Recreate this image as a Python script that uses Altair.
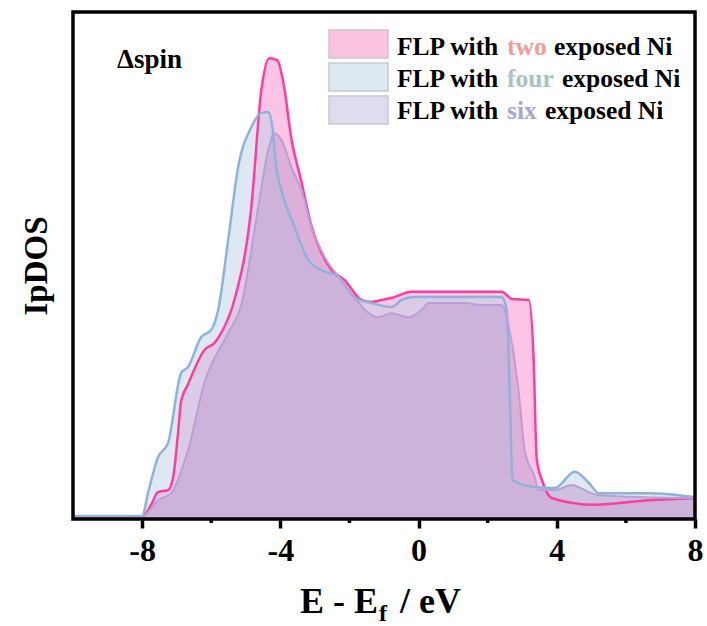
import altair as alt
import pandas as pd

# ---- data ----
two_x = [-10, -8, -7.74, -7.54, -7.25, -7.10, -6.96, -6.87, -6.67, -6.20, -5.91, -5.71, -5.33,
         -4.84, -4.55, -4.32, -4.09, -3.91, -3.68, -3.39, -3.10, -2.81, -2.52, -2.14, -1.65,
         -1.36, -1.07, -0.78, -0.20, 2.41, 2.70, 3.19, 3.33, 3.42, 3.57, 3.86, 5.10, 6.67, 8.0]
two_y = [0.04, 0.04, 0.28, 0.53, 0.57, 0.83, 1.70, 2.33, 2.66, 3.33, 3.47, 3.67, 4.32,
         6.15, 8.46, 9.09, 9.05, 8.60, 7.50, 6.65, 5.78, 5.25, 4.91, 4.71, 4.32,
         4.28, 4.32, 4.36, 4.48, 4.48, 4.34, 4.32, 3.14, 1.18, 0.77, 0.41, 0.28, 0.37, 0.41]

four_x = [-10, -8, -7.83, -7.54, -7.25, -6.87, -6.67, -6.29, -6.00, -5.80, -5.51, -5.22,
          -4.84, -4.55, -4.35, -4.23, -4.12, -3.97, -3.59, -3.19, -2.81, -2.32, -1.86,
          -1.36, -0.78, -0.49, -0.12, 2.41, 2.55, 2.64, 2.72, 3.36, 3.94, 4.52, 4.93, 5.22,
          6.67, 8.0]
four_y = [0.06, 0.06, 0.51, 1.22, 1.50, 2.88, 3.00, 3.59, 3.73, 4.12, 5.50, 6.94,
          7.73, 8.01, 8.03, 7.73, 6.94, 6.49, 5.76, 5.11, 4.91, 4.77, 4.38,
          4.26, 4.18, 4.32, 4.38, 4.38, 4.12, 2.49, 0.77, 0.63, 0.61, 0.93, 0.71, 0.51,
          0.51, 0.43]

six_x = [-10, -8, -7.54, -7.16, -6.67, -6.20, -5.51, -5.13, -4.64, -4.35, -4.17, -3.97,
         -3.68, -3.39, -3.10, -2.72, -2.23, -1.86, -1.45, -1.16, -0.78, -0.29, 0.09, 0.29,
         1.33, 1.83, 2.41, 2.61, 2.90, 3.07, 3.36, 3.48, 3.94, 4.43, 4.93, 5.22, 8.0]
six_y = [0.04, 0.04, 0.37, 0.51, 1.36, 2.68, 3.67, 4.22, 6.15, 7.28, 7.61, 7.48,
         6.94, 6.49, 5.76, 5.17, 4.71, 4.38, 4.06, 3.98, 4.06, 3.98, 4.12, 4.26,
         4.26, 4.22, 4.22, 3.79, 2.49, 1.36, 0.83, 0.57, 0.57, 0.67, 0.53, 0.47, 0.41]

major_ticks = [-8, -4, 0, 4, 8]
minor_ticks = [-6, -2, 2, 6]

series_names = ["two", "four", "six"]
fill_colors = ["#f98ccb", "#bcd2e8", "#be99ce"]
line_colors = ["#ff3d9e", "#8db4d8", "#b9a0d4"]
line_widths = [2.5, 2.5, 2.0]
swatch_colors = ["#fcc3e0", "#dde8f3", "#e0dcef"]
word_colors = ["#f39a9a", "#a9c4c2", "#a9a3d6"]

W, H = 622, 507
FONT = "Liberation Serif"

xs = alt.X("x:Q", scale=alt.Scale(domain=[-10, 8], nice=False, zero=False),
           axis=alt.Axis(values=major_ticks, labelExpr="'' + datum.value", labelFont=FONT,
                         labelFontWeight="bold", labelFontSize=32, labelColor="black",
                         tickColor="black", tickWidth=3.5, tickSize=9, labelPadding=7,
                         domain=False, grid=False, title=None, labelFlush=False, zindex=1))
ys = alt.Y("y:Q", scale=alt.Scale(domain=[0, 10], nice=False),
           axis=alt.Axis(labels=False, ticks=False, domain=False, grid=False, title="IpDOS",
                         titleFont=FONT, titleFontWeight="bold", titleFontSize=33,
                         titleColor="black", titlePadding=20))

frames = []
for xv, yv in [(two_x, two_y), (four_x, four_y), (six_x, six_y)]:
    frames.append(pd.DataFrame({"x": xv, "y": yv}))

areas = []
lines = []
for i, df in enumerate(frames):
    areas.append(alt.Chart(df).mark_area(interpolate="monotone", color=fill_colors[i],
                                         opacity=0.5).encode(x=xs, y=ys))
    lines.append(alt.Chart(df).mark_line(interpolate="monotone", color=line_colors[i],
                                         strokeWidth=line_widths[i]).encode(x=xs, y=ys))

minor = alt.Chart(pd.DataFrame({"x": minor_ticks})).mark_rule(
    color="black", strokeWidth=3.5).encode(x=alt.X("x:Q"), y=alt.value(H), y2=alt.value(H + 4))

one = alt.Data(values=[{}])
frame = alt.Chart(one).mark_rect(fill=None, stroke="black", strokeWidth=3.5).encode(
    x=alt.value(0), x2=alt.value(W), y=alt.value(0), y2=alt.value(H))

texts = []
texts.append(alt.Chart(one).mark_text(text="\u0394spin", font=FONT, fontWeight="bold", fontSize=27,
                                      align="left", baseline="alphabetic", color="black")
             .encode(x=alt.value(44), y=alt.value(56)))

# legend
swatch_top = [18, 51, 84]
text_base = [43, 75, 107]
exp_x = [481, 489, 472]
for i in range(3):
    texts.append(alt.Chart(one).mark_rect(fill=swatch_colors[i], stroke="#c9c9c9", strokeWidth=1.5)
                 .encode(x=alt.value(256), x2=alt.value(315), y=alt.value(swatch_top[i]),
                         y2=alt.value(swatch_top[i] + 28)))
    texts.append(alt.Chart(one).mark_text(text="FLP with", font=FONT, fontWeight="bold", fontSize=25.5,
                                          align="left", baseline="alphabetic", color="black")
                 .encode(x=alt.value(324), y=alt.value(text_base[i])))
    texts.append(alt.Chart(one).mark_text(text=series_names[i], font=FONT, fontWeight="bold", fontSize=25.5,
                                          align="left", baseline="alphabetic", color=word_colors[i])
                 .encode(x=alt.value(434), y=alt.value(text_base[i])))
    texts.append(alt.Chart(one).mark_text(text="exposed Ni", font=FONT, fontWeight="bold", fontSize=25.5,
                                          align="left", baseline="alphabetic", color="black")
                 .encode(x=alt.value(exp_x[i]), y=alt.value(text_base[i])))

# x title with subscript
texts.append(alt.Chart(one).mark_text(text="E - E", font=FONT, fontWeight="bold", fontSize=36,
                                      align="right", baseline="alphabetic", color="black")
             .encode(x=alt.value(305), y=alt.value(601)))
texts.append(alt.Chart(one).mark_text(text="f", font=FONT, fontWeight="bold", fontSize=24,
                                      align="left", baseline="alphabetic", color="black")
             .encode(x=alt.value(306), y=alt.value(609)))
texts.append(alt.Chart(one).mark_text(text="/ eV", font=FONT, fontWeight="bold", fontSize=36,
                                      align="left", baseline="alphabetic", color="black")
             .encode(x=alt.value(327), y=alt.value(601)))

chart = alt.layer(*areas, *lines, minor, frame, *texts).properties(
    width=W, height=H,
    padding={"left": 73, "top": 12, "right": 12, "bottom": 107},
    autosize=alt.AutoSizeParams(type="none"),
).configure_view(stroke=None).configure(background="white")

chart.save("out.html", embed_options={"renderer": "svg", "actions": False})
